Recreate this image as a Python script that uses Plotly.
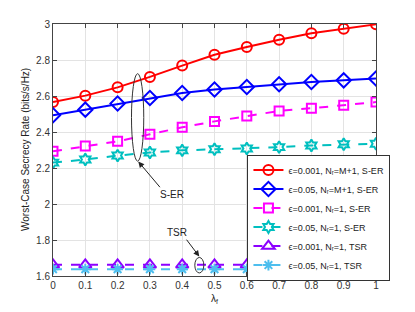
import plotly.graph_objects as go

lam = [0, 0.1, 0.2, 0.3, 0.4, 0.5, 0.6, 0.7, 0.8, 0.9, 1.0]

red_ser = [2.567, 2.602, 2.648, 2.706, 2.769, 2.829, 2.872, 2.913, 2.948, 2.974, 2.998]
blue_ser = [2.493, 2.524, 2.558, 2.589, 2.617, 2.636, 2.650, 2.665, 2.678, 2.687, 2.697]
mag_ser = [2.293, 2.322, 2.348, 2.387, 2.426, 2.459, 2.489, 2.517, 2.532, 2.549, 2.566]
teal_ser = [2.230, 2.247, 2.269, 2.286, 2.298, 2.304, 2.308, 2.316, 2.325, 2.332, 2.335]
purple_tsr = [1.662] * 11
lblue_tsr = [1.638] * 11

names = [
    "ϵ=0.001, Nᵣ=M+1, S-ER",
    "ϵ=0.05, Nᵣ=M+1, S-ER",
    "ϵ=0.001, Nᵣ=1, S-ER",
    "ϵ=0.05, Nᵣ=1, S-ER",
    "ϵ=0.001, Nᵣ=1, TSR",
    "ϵ=0.05, Nᵣ=1, TSR",
]
series = [red_ser, blue_ser, mag_ser, teal_ser, purple_tsr, lblue_tsr]
colors = ["#ff0000", "#0000ff", "#ff00ff", "#00bfbf", "#8c00ff", "#4dbeee"]
symbols = ["circle-open", "diamond-open", "square-open", "hexagram-open", "triangle-up-open", "asterisk-open"]
dashes = ["solid", "solid", "dash", "dash", "dash", "dash"]
sizes = [10, 11, 9, 9, 11, 9]

fig = go.Figure()
for n, s, c, sym, d, sz in zip(names, series, colors, symbols, dashes, sizes):
    fig.add_trace(go.Scatter(
        x=lam, y=s, name=n, mode="lines+markers",
        line=dict(color=c, width=2, dash=d),
        marker=dict(symbol=sym, size=sz, color=c, line=dict(color=c, width=2)),
    ))

axis_common = dict(
    showline=True, linecolor="#444", linewidth=1, mirror="ticks",
    ticks="inside", ticklen=4, tickcolor="#444",
    showgrid=True, gridcolor="#e3e3e3", gridwidth=1, zeroline=False,
    automargin=False,
    tickfont=dict(family="Liberation Sans, Arial", size=10, color="#333"),
)

# page body has an 8px margin, so the figure is sized/offset to compensate
fig.update_layout(
    width=407, height=304,
    margin=dict(l=45, r=39, t=16, b=36),
    paper_bgcolor="white", plot_bgcolor="white",
    font=dict(family="Liberation Sans, Arial", size=10, color="#222"),
    xaxis=dict(range=[0, 1], tickvals=lam,
               ticktext=["0", "0.1", "0.2", "0.3", "0.4", "0.5", "0.6", "0.7", "0.8", "0.9", "1"],
               title=dict(text="λ<sub>f</sub>", standoff=4, font=dict(size=10)), **axis_common),
    yaxis=dict(range=[1.6, 3.0], tickvals=[1.6, 1.8, 2.0, 2.2, 2.4, 2.6, 2.8, 3.0],
               ticktext=["1.6", "1.8", "2", "2.2", "2.4", "2.6", "2.8", "3"],
               **axis_common),
    legend=dict(x=0.602, y=0.482, xanchor="left", yanchor="top",
                bgcolor="white", bordercolor="#333", borderwidth=1,
                font=dict(size=9, color="#222"), tracegroupgap=0,
                itemwidth=30),
    showlegend=True,
)

fig.add_annotation(text="Worst-Case Secrecy Rate (bits/s/Hz)", xref="paper", yref="paper",
                   x=0, y=0.5, xshift=-28, textangle=-90, showarrow=False,
                   xanchor="center", yanchor="middle", font=dict(size=10, color="#222"))

# ellipses
fig.add_shape(type="circle", xref="x", yref="y", x0=0.243, x1=0.281, y0=2.238, y1=2.724,
              line=dict(color="#333", width=1))
fig.add_shape(type="circle", xref="x", yref="y", x0=0.439, x1=0.467, y0=1.617, y1=1.703,
              line=dict(color="#333", width=1))

fig.add_annotation(x=0.264, y=2.236, ax=0.335, ay=2.085, xref="x", yref="y", axref="x", ayref="y",
                   text="", showarrow=True, arrowhead=2, arrowsize=1.2, arrowwidth=1, arrowcolor="#222")
fig.add_annotation(x=0.368, y=2.052, text="S-ER", showarrow=False, font=dict(size=10, color="#222"))
fig.add_annotation(x=0.453, y=1.708, ax=0.41, ay=1.81, xref="x", yref="y", axref="x", ayref="y",
                   text="", showarrow=True, arrowhead=2, arrowsize=1.2, arrowwidth=1, arrowcolor="#222")
fig.add_annotation(x=0.383, y=1.84, text="TSR", showarrow=False, font=dict(size=10, color="#222"))

fig.write_html("out.html")
